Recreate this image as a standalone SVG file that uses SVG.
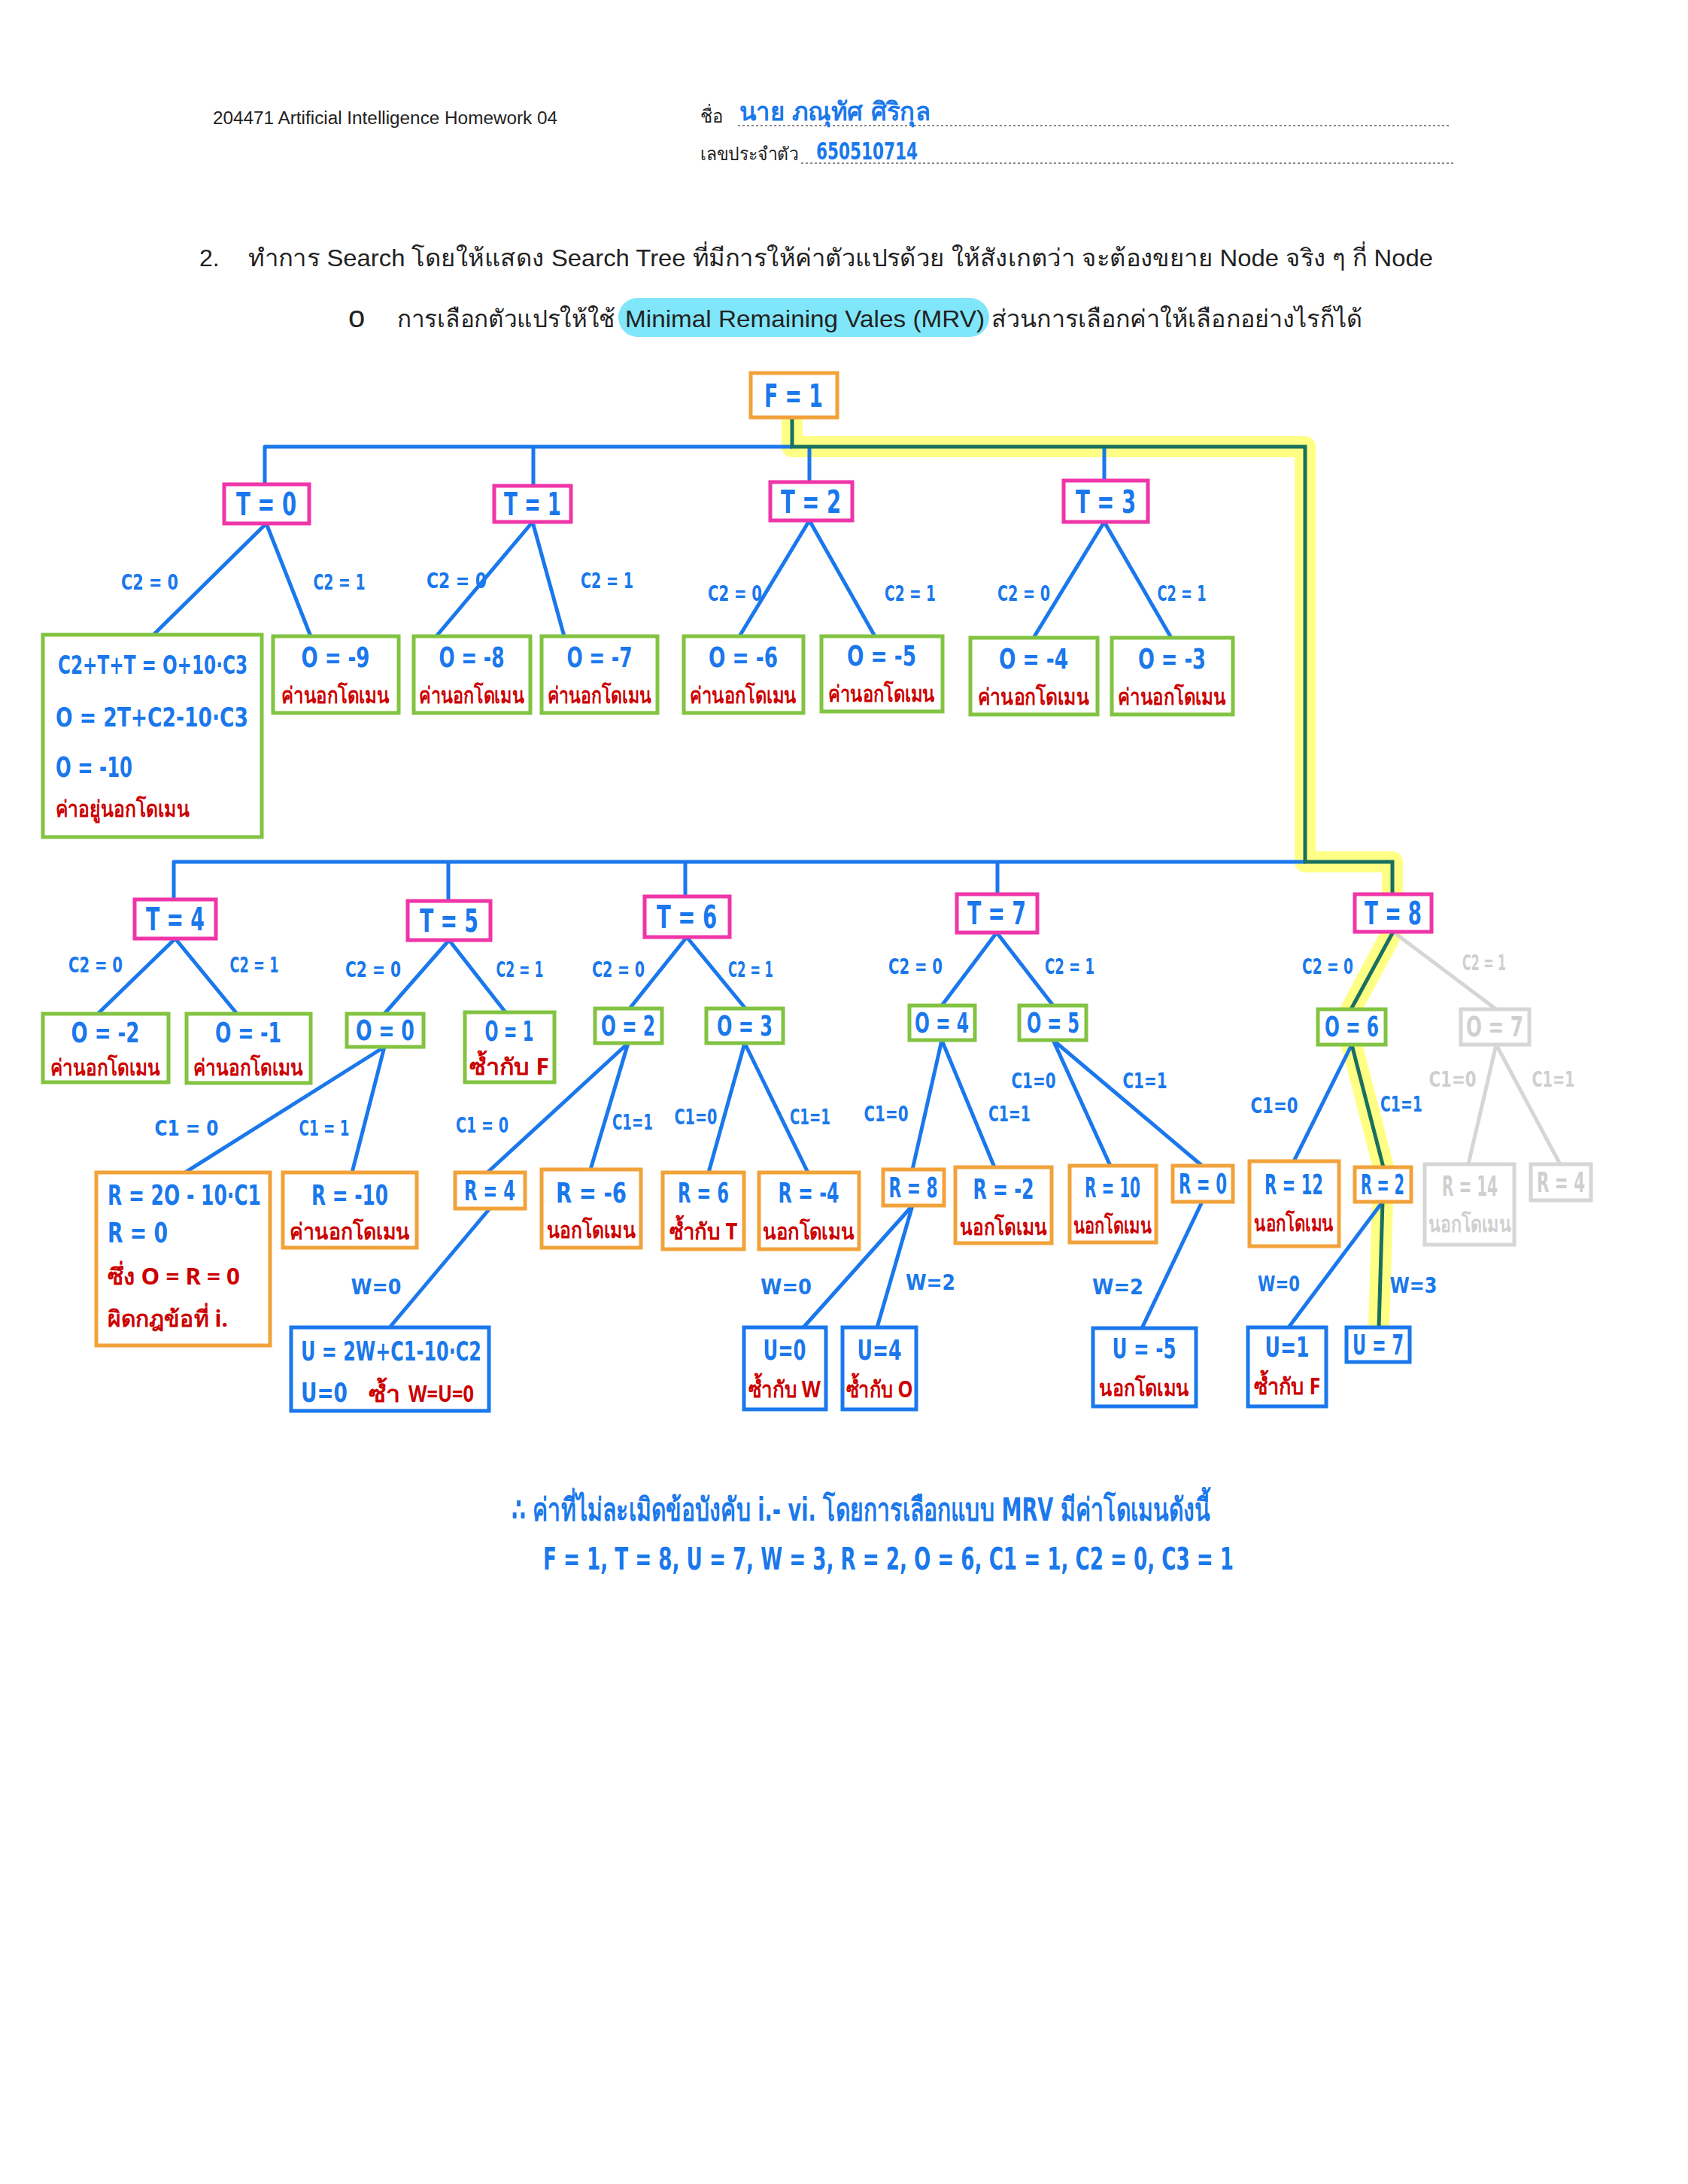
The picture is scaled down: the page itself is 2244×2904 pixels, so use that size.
<svg xmlns="http://www.w3.org/2000/svg" width="2244" height="2904" viewBox="0 0 2244 2904">
<style>
.bg{fill:#fff}
.hd{font-family:"Liberation Sans","Noto Sans",sans-serif;fill:#222}
.hw{font-family:"DejaVu Sans Condensed","DejaVu Sans","Noto Sans",sans-serif;font-weight:bold;fill:#1a78ec}
.n{font-family:"DejaVu Sans Condensed","DejaVu Sans","Noto Sans",sans-serif;font-weight:bold;fill:#1a78ec;font-size:42px;text-anchor:middle}
.ns{font-size:37px}
.lb{font-family:"DejaVu Sans Condensed","DejaVu Sans","Noto Sans",sans-serif;font-weight:bold;fill:#1a78ec;font-size:29px;text-anchor:middle}
.rd{font-family:"Noto Sans","DejaVu Sans Condensed",sans-serif;font-weight:bold;fill:#cc0000;font-size:30px;text-anchor:middle}
.gt{fill:#cfcfcf}
.pk{fill:#fff;stroke:#ef35a8;stroke-width:5}
.or{fill:#fff;stroke:#f2a23a;stroke-width:5}
.gr{fill:#fff;stroke:#82c341;stroke-width:5}
.bl{fill:#fff;stroke:#1a78ec;stroke-width:5}
.gy{fill:#fff;stroke:#d6d6d6;stroke-width:5}
.c{stroke:#1a78ec;stroke-width:5;fill:none;stroke-linejoin:round}
.cg{stroke:#d6d6d6;stroke-width:5;fill:none}
.ct{stroke:#19705e;stroke-width:5;fill:none;stroke-linejoin:miter}
.hl{stroke:#ffff33;stroke-opacity:0.6;stroke-width:28;fill:none;stroke-linejoin:round;stroke-linecap:round}
.dot{stroke:#888;stroke-width:2;stroke-dasharray:3 3;fill:none}
</style>
<rect class="bg" x="0" y="0" width="2244" height="2904"/>

<g id="header">
<text class="hd" x="283" y="165" font-size="23" textLength="458" lengthAdjust="spacingAndGlyphs">204471 Artificial Intelligence Homework 04</text>
<text class="hd" x="931" y="163" font-size="24">ชื่อ</text>
<line class="dot" x1="981" y1="167" x2="1929" y2="167"/>
<text class="hw" x="983" y="160" font-size="34" textLength="254" lengthAdjust="spacingAndGlyphs">นาย ภณุทัศ  ศิริกุล</text>
<text class="hd" x="931" y="213" font-size="24" textLength="130" lengthAdjust="spacingAndGlyphs">เลขประจำตัว</text>
<line class="dot" x1="1065" y1="217" x2="1935" y2="217"/>
<text class="hw" x="1085" y="212" font-size="32" textLength="135" lengthAdjust="spacingAndGlyphs">650510714</text>
<text class="hd" x="265" y="354" font-size="32">2.</text>
<text class="hd" x="330" y="354" font-size="32" textLength="1575" lengthAdjust="spacingAndGlyphs">ทำการ Search โดยให้แสดง Search Tree ที่มีการให้ค่าตัวแปรด้วย ให้สังเกตว่า จะต้องขยาย Node จริง ๆ กี่ Node</text>
<rect x="822" y="396" width="493" height="52" rx="26" fill="#80e6fa"/>
<text class="hd" x="463" y="435" font-size="40">o</text>
<text class="hd" x="528" y="435" font-size="32" textLength="290" lengthAdjust="spacingAndGlyphs">การเลือกตัวแปรให้ใช้</text>
<text class="hd" x="831" y="435" font-size="32" textLength="478" lengthAdjust="spacingAndGlyphs">Minimal Remaining Vales (MRV)</text>
<text class="hd" x="1318" y="435" font-size="32" textLength="493" lengthAdjust="spacingAndGlyphs">ส่วนการเลือกค่าให้เลือกอย่างไรก็ได้</text>
</g>

<g id="highlight">
<path class="hl" d="M1053,560 L1053,594 L1735,594 L1735,1146 L1851,1146 L1851,1239 L1796,1342 M1797,1389 L1839,1552 M1838,1598 L1833,1765"/>
</g>

<g id="connectors">
<path class="c" d="M352,644 L352,594 L1053,594 M709,594 L709,646 M1076,594 L1076,641 M1468,594 L1468,639"/>
<path class="c" d="M231,1196 L231,1146 L1735,1146 M596,1146 L596,1198 M911,1146 L911,1192 M1326,1146 L1326,1189"/>
<path class="c" d="M354,696 L204,844 M354,696 L413,846"/>
<path class="c" d="M708,694 L580,846 M708,694 L750,846"/>
<path class="c" d="M1076,692 L983,846 M1076,692 L1163,846"/>
<path class="c" d="M1468,694 L1374,848 M1468,694 L1557,848"/>
<path class="c" d="M233,1248 L130,1348 M233,1248 L315,1348"/>
<path class="c" d="M597,1250 L511,1348 M597,1250 L672,1346"/>
<path class="c" d="M511,1392 L246,1559 M511,1392 L468,1559"/>
<path class="c" d="M913,1246 L837,1341 M913,1246 L991,1341"/>
<path class="c" d="M835,1387 L648,1559 M835,1387 L785,1555"/>
<path class="c" d="M651,1607 L518,1765"/>
<path class="c" d="M990,1387 L942,1559 M990,1387 L1074,1559"/>
<path class="c" d="M1325,1240 L1252,1337 M1325,1240 L1400,1337"/>
<path class="c" d="M1252,1383 L1213,1555 M1252,1383 L1322,1552"/>
<path class="c" d="M1213,1603 L1068,1765 M1213,1603 L1166,1765"/>
<path class="c" d="M1400,1383 L1476,1550 M1400,1383 L1598,1550"/>
<path class="c" d="M1598,1598 L1518,1766"/>
<path class="c" d="M1797,1389 L1720,1544"/>
<path class="c" d="M1838,1598 L1713,1765"/>
<path class="cg" d="M1852,1239 L1989,1342 M1989,1389 L1952,1548 M1989,1389 L2074,1548"/>
<path class="ct" d="M1053,555 L1053,594 L1735,594 L1735,1146 L1851,1146 L1851,1189 M1852,1239 L1796,1342 M1797,1389 L1839,1552 M1838,1598 L1833,1765"/>
</g>

<g id="edge-labels">
<text class="lb" x="199" y="784" textLength="76" lengthAdjust="spacingAndGlyphs">C2 = 0</text>
<text class="lb" x="451" y="784" textLength="69" lengthAdjust="spacingAndGlyphs">C2 = 1</text>
<text class="lb" x="607" y="782" textLength="80" lengthAdjust="spacingAndGlyphs">C2 = 0</text>
<text class="lb" x="807" y="782" textLength="70" lengthAdjust="spacingAndGlyphs">C2 = 1</text>
<text class="lb" x="977" y="799" textLength="72" lengthAdjust="spacingAndGlyphs">C2 = 0</text>
<text class="lb" x="1210" y="799" textLength="68" lengthAdjust="spacingAndGlyphs">C2 = 1</text>
<text class="lb" x="1361" y="799" textLength="70" lengthAdjust="spacingAndGlyphs">C2 = 0</text>
<text class="lb" x="1571" y="799" textLength="65" lengthAdjust="spacingAndGlyphs">C2 = 1</text>
<text class="lb" x="127" y="1293" textLength="72" lengthAdjust="spacingAndGlyphs">C2 = 0</text>
<text class="lb" x="338" y="1293" textLength="65" lengthAdjust="spacingAndGlyphs">C2 = 1</text>
<text class="lb" x="496" y="1299" textLength="74" lengthAdjust="spacingAndGlyphs">C2 = 0</text>
<text class="lb" x="691" y="1299" textLength="63" lengthAdjust="spacingAndGlyphs">C2 = 1</text>
<text class="lb" x="822" y="1299" textLength="70" lengthAdjust="spacingAndGlyphs">C2 = 0</text>
<text class="lb" x="998" y="1299" textLength="60" lengthAdjust="spacingAndGlyphs">C2 = 1</text>
<text class="lb" x="1217" y="1295" textLength="72" lengthAdjust="spacingAndGlyphs">C2 = 0</text>
<text class="lb" x="1422" y="1295" textLength="66" lengthAdjust="spacingAndGlyphs">C2 = 1</text>
<text class="lb" x="1765" y="1295" textLength="68" lengthAdjust="spacingAndGlyphs">C2 = 0</text>
<text class="lb gt" x="1973" y="1290" textLength="58" lengthAdjust="spacingAndGlyphs">C2 = 1</text>
<text class="lb" x="248" y="1510" textLength="85" lengthAdjust="spacingAndGlyphs">C1 = 0</text>
<text class="lb" x="431" y="1510" textLength="67" lengthAdjust="spacingAndGlyphs">C1 = 1</text>
<text class="lb" x="641" y="1506" textLength="70" lengthAdjust="spacingAndGlyphs">C1 = 0</text>
<text class="lb" x="841" y="1502" textLength="54" lengthAdjust="spacingAndGlyphs">C1=1</text>
<text class="lb" x="925" y="1495" textLength="57" lengthAdjust="spacingAndGlyphs">C1=0</text>
<text class="lb" x="1077" y="1495" textLength="54" lengthAdjust="spacingAndGlyphs">C1=1</text>
<text class="lb" x="1178" y="1491" textLength="59" lengthAdjust="spacingAndGlyphs">C1=0</text>
<text class="lb" x="1342" y="1491" textLength="56" lengthAdjust="spacingAndGlyphs">C1=1</text>
<text class="lb" x="1374" y="1447" textLength="59" lengthAdjust="spacingAndGlyphs">C1=0</text>
<text class="lb" x="1522" y="1447" textLength="59" lengthAdjust="spacingAndGlyphs">C1=1</text>
<text class="lb" x="1694" y="1480" textLength="63" lengthAdjust="spacingAndGlyphs">C1=0</text>
<text class="lb" x="1863" y="1478" textLength="56" lengthAdjust="spacingAndGlyphs">C1=1</text>
<text class="lb gt" x="1931" y="1445" textLength="63" lengthAdjust="spacingAndGlyphs">C1=0</text>
<text class="lb gt" x="2065" y="1445" textLength="57" lengthAdjust="spacingAndGlyphs">C1=1</text>
<text class="lb" x="500" y="1721" textLength="67" lengthAdjust="spacingAndGlyphs">W=0</text>
<text class="lb" x="1045" y="1721" textLength="68" lengthAdjust="spacingAndGlyphs">W=0</text>
<text class="lb" x="1237" y="1715" textLength="66" lengthAdjust="spacingAndGlyphs">W=2</text>
<text class="lb" x="1486" y="1721" textLength="68" lengthAdjust="spacingAndGlyphs">W=2</text>
<text class="lb" x="1700" y="1717" textLength="56" lengthAdjust="spacingAndGlyphs">W=0</text>
<text class="lb" x="1879" y="1719" textLength="63" lengthAdjust="spacingAndGlyphs">W=3</text>
</g>

<g id="n-F1"><rect class="or" x="998" y="496" width="115" height="59"/><text class="n" x="1055" y="541" textLength="78" lengthAdjust="spacingAndGlyphs">F = 1</text></g>
<g id="n-T0"><rect class="pk" x="298" y="644" width="113" height="52"/><text class="n" x="354" y="685" textLength="80" lengthAdjust="spacingAndGlyphs">T = 0</text></g>
<g id="n-T1"><rect class="pk" x="657" y="646" width="102" height="48"/><text class="n" x="708" y="685" textLength="76" lengthAdjust="spacingAndGlyphs">T = 1</text></g>
<g id="n-T2"><rect class="pk" x="1024" y="641" width="109" height="51"/><text class="n" x="1078" y="682" textLength="80" lengthAdjust="spacingAndGlyphs">T = 2</text></g>
<g id="n-T3"><rect class="pk" x="1414" y="639" width="112" height="55"/><text class="n" x="1470" y="682" textLength="80" lengthAdjust="spacingAndGlyphs">T = 3</text></g>

<g id="n-T0a"><rect class="gr" x="57" y="844" width="291" height="269"/>
<text class="hw" x="77" y="896" font-size="34" textLength="252" lengthAdjust="spacingAndGlyphs">C2+T+T = O+10·C3</text>
<text class="hw" x="74" y="966" font-size="36" textLength="256" lengthAdjust="spacingAndGlyphs">O = 2T+C2-10·C3</text>
<text class="hw" x="74" y="1033" font-size="38" textLength="102" lengthAdjust="spacingAndGlyphs">O = -10</text>
<text class="rd" x="74" y="1086" style="text-anchor:start" textLength="178" lengthAdjust="spacingAndGlyphs">ค่าอยู่นอกโดเมน</text></g>
<g id="n-T0b"><rect class="gr" x="363" y="846" width="167" height="102"/><text class="n ns" x="446" y="887" textLength="91" lengthAdjust="spacingAndGlyphs">O = -9</text><text class="rd" x="446" y="935" textLength="144" lengthAdjust="spacingAndGlyphs">ค่านอกโดเมน</text></g>
<g id="n-T1a"><rect class="gr" x="550" y="846" width="155" height="102"/><text class="n ns" x="627" y="887" textLength="87" lengthAdjust="spacingAndGlyphs">O = -8</text><text class="rd" x="627" y="935" textLength="140" lengthAdjust="spacingAndGlyphs">ค่านอกโดเมน</text></g>
<g id="n-T1b"><rect class="gr" x="720" y="846" width="154" height="102"/><text class="n ns" x="797" y="887" textLength="87" lengthAdjust="spacingAndGlyphs">O = -7</text><text class="rd" x="797" y="935" textLength="138" lengthAdjust="spacingAndGlyphs">ค่านอกโดเมน</text></g>
<g id="n-T2a"><rect class="gr" x="909" y="846" width="159" height="102"/><text class="n ns" x="988" y="887" textLength="92" lengthAdjust="spacingAndGlyphs">O = -6</text><text class="rd" x="988" y="935" textLength="142" lengthAdjust="spacingAndGlyphs">ค่านอกโดเมน</text></g>
<g id="n-T2b"><rect class="gr" x="1092" y="846" width="161" height="100"/><text class="n ns" x="1172" y="885" textLength="92" lengthAdjust="spacingAndGlyphs">O = -5</text><text class="rd" x="1172" y="933" textLength="142" lengthAdjust="spacingAndGlyphs">ค่านอกโดเมน</text></g>
<g id="n-T3a"><rect class="gr" x="1290" y="848" width="169" height="102"/><text class="n ns" x="1374" y="889" textLength="92" lengthAdjust="spacingAndGlyphs">O = -4</text><text class="rd" x="1374" y="937" textLength="148" lengthAdjust="spacingAndGlyphs">ค่านอกโดเมน</text></g>
<g id="n-T3b"><rect class="gr" x="1478" y="848" width="161" height="102"/><text class="n ns" x="1558" y="889" textLength="90" lengthAdjust="spacingAndGlyphs">O = -3</text><text class="rd" x="1558" y="937" textLength="144" lengthAdjust="spacingAndGlyphs">ค่านอกโดเมน</text></g>

<g id="n-T4"><rect class="pk" x="179" y="1196" width="108" height="52"/><text class="n" x="233" y="1237" textLength="78" lengthAdjust="spacingAndGlyphs">T = 4</text></g>
<g id="n-T5"><rect class="pk" x="542" y="1198" width="110" height="52"/><text class="n" x="597" y="1239" textLength="78" lengthAdjust="spacingAndGlyphs">T = 5</text></g>
<g id="n-T6"><rect class="pk" x="857" y="1192" width="113" height="54"/><text class="n" x="913" y="1234" textLength="80" lengthAdjust="spacingAndGlyphs">T = 6</text></g>
<g id="n-T7"><rect class="pk" x="1272" y="1189" width="107" height="51"/><text class="n" x="1325" y="1229" textLength="78" lengthAdjust="spacingAndGlyphs">T = 7</text></g>
<g id="n-T8"><rect class="pk" x="1801" y="1189" width="102" height="50"/><text class="n" x="1852" y="1229" textLength="76" lengthAdjust="spacingAndGlyphs">T = 8</text></g>

<g id="n-Om2"><rect class="gr" x="57" y="1348" width="167" height="91"/><text class="n ns" x="140" y="1386" textLength="91" lengthAdjust="spacingAndGlyphs">O = -2</text><text class="rd" x="140" y="1430" textLength="146" lengthAdjust="spacingAndGlyphs">ค่านอกโดเมน</text></g>
<g id="n-Om1"><rect class="gr" x="248" y="1348" width="165" height="92"/><text class="n ns" x="330" y="1386" textLength="88" lengthAdjust="spacingAndGlyphs">O = -1</text><text class="rd" x="330" y="1430" textLength="146" lengthAdjust="spacingAndGlyphs">ค่านอกโดเมน</text></g>
<g id="n-O0"><rect class="gr" x="461" y="1348" width="102" height="44"/><text class="n ns" x="512" y="1383" textLength="78" lengthAdjust="spacingAndGlyphs">O = 0</text></g>
<g id="n-O1"><rect class="gr" x="618" y="1346" width="119" height="93"/><text class="n ns" x="677" y="1384" textLength="65" lengthAdjust="spacingAndGlyphs">O = 1</text><text class="rd" x="677" y="1429" textLength="106" lengthAdjust="spacingAndGlyphs">ซ้ำกับ F</text></g>
<g id="n-O2"><rect class="gr" x="791" y="1341" width="89" height="46"/><text class="n ns" x="835" y="1377" textLength="72" lengthAdjust="spacingAndGlyphs">O = 2</text></g>
<g id="n-O3"><rect class="gr" x="939" y="1341" width="102" height="46"/><text class="n ns" x="990" y="1377" textLength="74" lengthAdjust="spacingAndGlyphs">O = 3</text></g>
<g id="n-O4"><rect class="gr" x="1209" y="1337" width="87" height="46"/><text class="n ns" x="1252" y="1373" textLength="72" lengthAdjust="spacingAndGlyphs">O = 4</text></g>
<g id="n-O5"><rect class="gr" x="1355" y="1337" width="89" height="46"/><text class="n ns" x="1400" y="1373" textLength="70" lengthAdjust="spacingAndGlyphs">O = 5</text></g>
<g id="n-O6"><rect class="gr" x="1752" y="1342" width="90" height="47"/><text class="n ns" x="1797" y="1378" textLength="72" lengthAdjust="spacingAndGlyphs">O = 6</text></g>
<g id="n-O7"><rect class="gy" x="1942" y="1342" width="91" height="47"/><text class="n ns gt" x="1987" y="1378" textLength="76" lengthAdjust="spacingAndGlyphs">O = 7</text></g>

<g id="n-Rform"><rect class="or" x="128" y="1559" width="231" height="230"/>
<text class="hw" x="143" y="1602" font-size="38" textLength="204" lengthAdjust="spacingAndGlyphs">R = 2O - 10·C1</text>
<text class="hw" x="143" y="1652" font-size="38" textLength="80" lengthAdjust="spacingAndGlyphs">R = 0</text>
<text class="rd" x="143" y="1708" style="text-anchor:start" font-size="35" textLength="176" lengthAdjust="spacingAndGlyphs">ซึ่ง O = R = 0</text>
<text class="rd" x="143" y="1764" style="text-anchor:start" font-size="35" textLength="160" lengthAdjust="spacingAndGlyphs">ผิดกฎข้อที่ i.</text></g>
<g id="n-Rm10"><rect class="or" x="376" y="1559" width="178" height="100"/><text class="n ns" x="465" y="1602" textLength="102" lengthAdjust="spacingAndGlyphs">R = -10</text><text class="rd" x="465" y="1648" textLength="160" lengthAdjust="spacingAndGlyphs">ค่านอกโดเมน</text></g>
<g id="n-R4"><rect class="or" x="605" y="1559" width="93" height="48"/><text class="n ns" x="651" y="1596" textLength="68" lengthAdjust="spacingAndGlyphs">R = 4</text></g>
<g id="n-Rm6"><rect class="or" x="720" y="1555" width="132" height="104"/><text class="n ns" x="786" y="1599" textLength="94" lengthAdjust="spacingAndGlyphs">R = -6</text><text class="rd" x="786" y="1646" textLength="118" lengthAdjust="spacingAndGlyphs">นอกโดเมน</text></g>
<g id="n-R6"><rect class="or" x="881" y="1559" width="108" height="102"/><text class="n ns" x="935" y="1599" textLength="68" lengthAdjust="spacingAndGlyphs">R = 6</text><text class="rd" x="935" y="1648" textLength="91" lengthAdjust="spacingAndGlyphs">ซ้ำกับ T</text></g>
<g id="n-Rm4"><rect class="or" x="1009" y="1559" width="133" height="102"/><text class="n ns" x="1075" y="1599" textLength="81" lengthAdjust="spacingAndGlyphs">R = -4</text><text class="rd" x="1075" y="1648" textLength="122" lengthAdjust="spacingAndGlyphs">นอกโดเมน</text></g>
<g id="n-R8"><rect class="or" x="1174" y="1555" width="81" height="48"/><text class="n ns" x="1214" y="1592" textLength="65" lengthAdjust="spacingAndGlyphs">R = 8</text></g>
<g id="n-Rm2"><rect class="or" x="1270" y="1552" width="128" height="101"/><text class="n ns" x="1334" y="1594" textLength="81" lengthAdjust="spacingAndGlyphs">R = -2</text><text class="rd" x="1334" y="1642" textLength="116" lengthAdjust="spacingAndGlyphs">นอกโดเมน</text></g>
<g id="n-R10"><rect class="or" x="1422" y="1550" width="115" height="102"/><text class="n ns" x="1479" y="1592" textLength="74" lengthAdjust="spacingAndGlyphs">R = 10</text><text class="rd" x="1479" y="1640" textLength="104" lengthAdjust="spacingAndGlyphs">นอกโดเมน</text></g>
<g id="n-R0"><rect class="or" x="1559" y="1550" width="80" height="48"/><text class="n ns" x="1599" y="1587" textLength="64" lengthAdjust="spacingAndGlyphs">R = 0</text></g>
<g id="n-R12"><rect class="or" x="1661" y="1544" width="119" height="113"/><text class="n ns" x="1720" y="1588" textLength="78" lengthAdjust="spacingAndGlyphs">R = 12</text><text class="rd" x="1720" y="1637" textLength="106" lengthAdjust="spacingAndGlyphs">นอกโดเมน</text></g>
<g id="n-R2"><rect class="or" x="1801" y="1552" width="75" height="46"/><text class="n ns" x="1838" y="1588" textLength="58" lengthAdjust="spacingAndGlyphs">R = 2</text></g>
<g id="n-R14"><rect class="gy" x="1894" y="1548" width="119" height="107"/><text class="n ns gt" x="1954" y="1590" textLength="74" lengthAdjust="spacingAndGlyphs">R = 14</text><text class="rd gt" x="1954" y="1638" textLength="110" lengthAdjust="spacingAndGlyphs">นอกโดเมน</text></g>
<g id="n-R4g"><rect class="gy" x="2035" y="1548" width="80" height="48"/><text class="n ns gt" x="2075" y="1585" textLength="64" lengthAdjust="spacingAndGlyphs">R = 4</text></g>

<g id="n-Uform"><rect class="bl" x="387" y="1765" width="263" height="111"/>
<text class="hw" x="400" y="1809" font-size="35" textLength="240" lengthAdjust="spacingAndGlyphs">U = 2W+C1-10·C2</text>
<text class="hw" x="400" y="1864" font-size="35" textLength="62" lengthAdjust="spacingAndGlyphs">U=0</text>
<text class="rd" x="490" y="1864" style="text-anchor:start" font-size="33" textLength="42" lengthAdjust="spacingAndGlyphs">ซ้ำ</text>
<text class="rd" x="543" y="1864" style="text-anchor:start" font-size="31" textLength="87" lengthAdjust="spacingAndGlyphs">W=U=0</text></g>
<g id="n-U0"><rect class="bl" x="989" y="1765" width="109" height="109"/><text class="n ns" x="1043" y="1808" textLength="57" lengthAdjust="spacingAndGlyphs">U=0</text><text class="rd" x="1043" y="1858" textLength="96" lengthAdjust="spacingAndGlyphs">ซ้ำกับ W</text></g>
<g id="n-U4"><rect class="bl" x="1120" y="1765" width="98" height="109"/><text class="n ns" x="1169" y="1808" textLength="59" lengthAdjust="spacingAndGlyphs">U=4</text><text class="rd" x="1169" y="1858" textLength="89" lengthAdjust="spacingAndGlyphs">ซ้ำกับ O</text></g>
<g id="n-Um5"><rect class="bl" x="1453" y="1766" width="137" height="104"/><text class="n ns" x="1521" y="1806" textLength="85" lengthAdjust="spacingAndGlyphs">U = -5</text><text class="rd" x="1521" y="1856" textLength="120" lengthAdjust="spacingAndGlyphs">นอกโดเมน</text></g>
<g id="n-U1"><rect class="bl" x="1659" y="1765" width="104" height="105"/><text class="n ns" x="1711" y="1804" textLength="59" lengthAdjust="spacingAndGlyphs">U=1</text><text class="rd" x="1711" y="1854" textLength="89" lengthAdjust="spacingAndGlyphs">ซ้ำกับ F</text></g>
<g id="n-U7"><rect class="bl" x="1790" y="1765" width="84" height="46"/><text class="n ns" x="1832" y="1801" textLength="68" lengthAdjust="spacingAndGlyphs">U = 7</text></g>

<g id="conclusion">
<text class="hw" x="680" y="2022" font-size="42" textLength="929" lengthAdjust="spacingAndGlyphs">∴  ค่าที่ไม่ละเมิดข้อบังคับ i.- vi. โดยการเลือกแบบ  MRV  มีค่าโดเมนดังนี้</text>
<text class="hw" x="722" y="2087" font-size="40" textLength="918" lengthAdjust="spacingAndGlyphs">F = 1, T = 8, U = 7, W = 3, R = 2, O = 6, C1 = 1, C2 = 0, C3 = 1</text>
</g>
</svg>
